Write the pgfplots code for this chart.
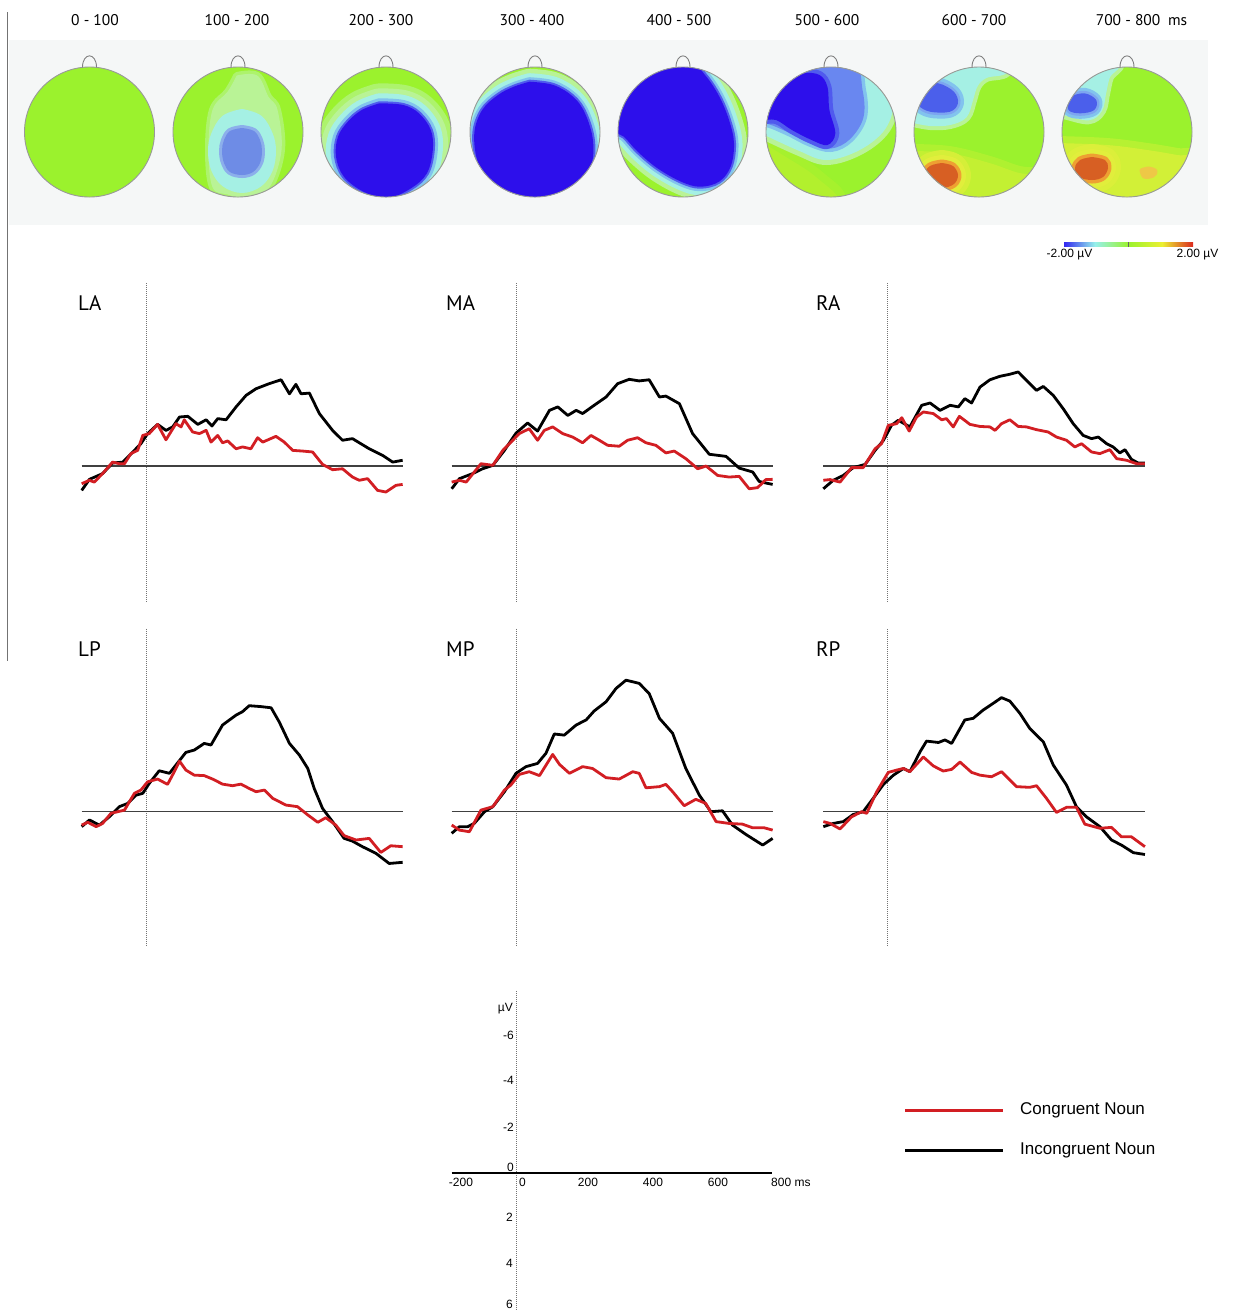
\documentclass[border=0pt]{standalone}
\usepackage{pgfplots}
\pgfplotsset{compat=1.18}
\usepackage{pgfplotstable}
\usepackage{fontspec}
\setmainfont{PT Sans}
\newfontfamily\arial{Liberation Sans}

\definecolor{hgreen}{RGB}{155,242,45}
\definecolor{hblue}{RGB}{45,15,235}
\definecolor{hlblue}{RGB}{80,90,238}
\definecolor{hcblue}{RGB}{130,195,238}
\definecolor{hlblueb}{RGB}{105,135,240}
\definecolor{hmblue}{RGB}{110,140,230}
\definecolor{hmbluer}{RGB}{140,175,235}
\definecolor{hsblue}{RGB}{75,95,235}
\definecolor{hsbluer}{RGB}{125,165,240}
\definecolor{hcyan}{RGB}{165,240,228}
\definecolor{hpale}{RGB}{185,243,150}
\definecolor{hyel}{RGB}{225,238,60}
\definecolor{hygreen}{RGB}{195,240,50}
\definecolor{hygreenb}{RGB}{210,240,55}
\definecolor{hygreenc}{RGB}{178,240,45}
\definecolor{horange}{RGB}{238,160,50}
\definecolor{hred}{RGB}{215,95,35}
\definecolor{hspot}{RGB}{238,200,70}
\definecolor{erpred}{RGB}{210,30,35}
\definecolor{bggray}{RGB}{245,247,247}
\definecolor{cbblue}{RGB}{50,40,240}
\definecolor{cbcyan}{RGB}{150,240,235}
\definecolor{cbyel}{RGB}{235,240,50}
\definecolor{cbred}{RGB}{220,40,30}

\pgfplotsset{
 head/.style={width=130pt,height=130pt,scale only axis,hide axis,xmin=-65,xmax=65,ymin=-65,ymax=65,y dir=reverse,clip=false,anchor=center},
 erp/.style={width=321.6pt,height=322pt,scale only axis,hide axis,xmin=-200,xmax=800,ymin=-8,ymax=6,y dir=reverse,clip=false,anchor=south west},
 blk/.style={black,line width=2.8pt,line join=round},
 rd/.style={erpred,line width=2.8pt,line join=round},
 zl/.style={black!75,line width=1.5pt},
 dl/.style={black!55,line width=0.8pt,dash pattern=on 1pt off 1pt},
}
\newcommand\headbase{\fill[hgreen] (axis cs:0,0) circle[radius=65];}
\newcommand\headoutline{\draw[black!40,line width=0.9pt] (axis cs:0,0) circle[radius=65];
 \draw[black!50,line width=0.9pt] (axis cs:-7,-64.6) .. controls (axis cs:-7,-80) and (axis cs:7,-80) .. (axis cs:7,-64.6);}
\newcommand\lay[3]{\addplot[fill=#2,draw=#2,line width=#3,line join=round,smooth,tension=0.6] table{#1} -- cycle;}
\newcommand\layn[2]{\addplot[fill=#2,draw=none,smooth,tension=0.6] table{#1} -- cycle;}

% ---- topographic map outlines (local coordinates, px from head centre, y down)
\pgfplotstableread{
x y
-1 -56
19 -56
30 -35
39 -22
43 18
31 55
10 66
-10 62
-25 55
-29 18
-25 -22
-10 -40
-1 -56
}\hBhalo
\pgfplotstableread{
x y
4 -19
21 -13
31 3
34 19
31 37
21 51
4 57
-13 51
-23 37
-26 19
-23 3
-13 -13
4 -19
}\hBcyan
\pgfplotstableread{
x y
4 -4
16 -1
22 8
24 19
22 31
15 40
4 43
-8 40
-14 31
-16 19
-14 8
-8 -1
4 -4
}\hBcore
\pgfplotstableread{
x y
-6.6 -28.7
17.2 -27
33 -18.7
44.8 -2
46.8 18
40.9 41.3
25 56.3
1.4 66
-22.4 59.7
-42.1 44.7
-50 24.7
-48 4.7
-38.2 -10.3
-24.3 -22
-6.6 -28.7
}\hCcore
\pgfplotstableread{
x y
-5.4 -50.3
18.4 -47
38.1 -35.3
50 -18.7
57.9 8
55.9 34.7
42 54.7
18.4 66
-13.3 66
-41 54.7
-56.7 31.3
-60.7 1.3
-52.8 -22
-37 -37
-21.2 -45.3
-5.4 -50.3
}\hDcore
\pgfplotstableread{
x y
-35 -72
5 -72
22 -57
36 -36
46 -12
51 11.3
47.6 34.7
36 49.7
17 54.7
-1.8 49.7
-25.5 36.3
-45.3 19.7
-59.1 4.7
-72 -5
-72 -50
-50 -70
-35 -72
}\hEcore
\pgfplotstableread{
x y
-70 10
-45 25
-15 45
5 70
-70 70
-70 10
}\hFyel
\pgfplotstableread{
x y
-70 -2
-31 16
-4 25
28 15
52 -5
60 -32
52 -55
20 -70
-40 -70
-70 -32
-70 -2
}\hFcyan
\pgfplotstableread{
x y
-70 -20
-62 -40
-50 -55
-31 -70
20 -70
30 -42
31 -15
18 6
0 15
-20 10
-40 0
-58 -8
-70 -12
-70 -20
}\hFmid
\pgfplotstableread{
x y
-70 -18.7
-55 -38.7
-43.1 -52
-27.3 -58.7
-11.5 -57
-3.6 -45.3
-1.6 -22
4.3 1.3
-3.6 13
-19.4 8
-39.1 -2
-55 -12
-70 -12
-70 -18.7
}\hFcore
\pgfplotstableread{
x y
-70 -12
-48.8 -8
-29 -9
-14 -16
-8 -32
-3 -47
7 -56
27 -61
27 -80
-70 -80
-70 -12
}\hGcyan
\pgfplotstableread{
x y
-58.7 -47
-40.9 -48.7
-25.1 -40.3
-21.1 -28.7
-29 -20.3
-48.8 -20.3
-60.7 -27
-62.6 -38.7
-58.7 -47
}\hGcore
\pgfplotstableread{
x y
-70 22
-30 24
10 34
40 44
70 48
70 70
-70 70
-70 22
}\hGyel
\pgfplotstableread{
x y
-37 31
-26 34
-21 43
-25 52
-37 56
-49 53
-55 43
-49 34
-37 31
}\hGorange
\pgfplotstableread{
x y
-70 -18.7
-62.4 -18.7
-38.7 -13.7
-26.8 -22
-22.9 -38.7
-19 -55.3
-11 -70
-70 -70
-70 -18.7
}\hHcyan
\pgfplotstableread{
x y
-58.5 -35.3
-42.6 -38.7
-30.8 -32
-32.8 -22
-46.6 -18.7
-58.5 -22
-58.5 -35.3
}\hHcore
\pgfplotstableread{
x y
-70 14
-20 16
20 21
50 26
70 30
70 70
-70 70
-70 14
}\hHyel
\pgfplotstableread{
x y
-35 25
-22 28
-19 36
-24 45
-35 48
-48 45
-52 36
-47 28
-35 25
}\hHorange
\pgfplotstableread{
x y
14 38
22 36
29 39
26 44
17 45
14 38
}\hHspot

\begin{document}
\begin{tikzpicture}
\useasboundingbox (0pt,0pt) rectangle (1234pt,-1310pt);
\pgfdeclarehorizontalshading{cbar}{100bp}{color(0bp)=(cbblue); color(25bp)=(cbblue); color(37bp)=(cbcyan); color(50bp)=(hgreen); color(63bp)=(cbyel); color(75bp)=(cbred); color(100bp)=(cbred)}
\begin{scope}[x=1pt,y=-1pt]
\fill[bggray] (9,39.5) rectangle (1208,225);
\draw[black!55,line width=1.6pt] (7.5,12) -- (7.5,661);
\begin{scope}[font=\fontsize{15.5}{18}\selectfont]
\node at (95,20) {0 - 100};
\node at (237,20) {100 - 200};
\node at (381,20) {200 - 300};
\node at (532,20) {300 - 400};
\node at (679,20) {400 - 500};
\node at (827,20) {500 - 600};
\node at (974,20) {600 - 700};
\node at (1141.5,20) {700 - 800\enspace ms};
\end{scope}
\shade[shading=cbar] (1064,242) rectangle (1193,246.5);
\draw[black!60,line width=0.6pt] (1128.5,242) -- (1128.5,246.5);
\begin{scope}[font=\arial\fontsize{12}{14}\selectfont]
\node at (1069.5,255) {-2.00 µV};
\node at (1197.5,255) {2.00 µV};
\end{scope}
\begin{scope}[font=\fontsize{21}{24}\selectfont]
\node[anchor=west,inner sep=0pt] at (78,303) {LA};
\node[anchor=west,inner sep=0pt] at (446,303) {MA};
\node[anchor=west,inner sep=0pt] at (816,303) {RA};
\node[anchor=west,inner sep=0pt] at (78,649) {LP};
\node[anchor=west,inner sep=0pt] at (446,649) {MP};
\node[anchor=west,inner sep=0pt] at (816,649) {RP};
\end{scope}
\begin{scope}[font=\arial\fontsize{12}{14}\selectfont]
\node[anchor=east,inner sep=1pt] at (514,1009) {µV};
\node[anchor=east,inner sep=1pt] at (515,1035) {-6};
\node[anchor=east,inner sep=1pt] at (515,1080) {-4};
\node[anchor=east,inner sep=1pt] at (515,1127) {-2};
\node[anchor=east,inner sep=1pt] at (515,1167) {0};
\node[anchor=east,inner sep=1pt] at (514,1217) {2};
\node[anchor=east,inner sep=1pt] at (514,1263) {4};
\node[anchor=east,inner sep=1pt] at (514,1304) {6};
\node at (461,1182) {-200};
\node at (522.5,1182) {0};
\node at (588,1182) {200};
\node at (653,1182) {400};
\node at (718,1182) {600};
\node[anchor=west,inner sep=0pt] at (771,1182) {800 ms};
\end{scope}
\draw[erpred,line width=3pt] (905,1110) -- (1003,1110);
\draw[black,line width=3pt] (905,1150) -- (1003,1150);
\begin{scope}[font=\arial\fontsize{17}{20}\selectfont]
\node[anchor=west,inner sep=0pt] at (1020,1110) {Congruent Noun};
\node[anchor=west,inner sep=0pt] at (1020,1150) {Incongruent Noun};
\end{scope}
\end{scope}

% ---------------- heads
\begin{axis}[head,at={(89.5pt,-132pt)}]
\headbase
\headoutline
\end{axis}
\begin{axis}[head,at={(238pt,-132pt)}]
\headbase
\begin{scope}
\clip (axis cs:0,0) circle[radius=65];
\lay{\hBhalo}{hpale!60!hgreen}{8pt}
\lay{\hBhalo}{hpale}{1pt}
\lay{\hBcyan}{hcyan}{8pt}
\lay{\hBcore}{hmbluer}{6pt}
\layn{\hBcore}{hmblue}
\end{scope}
\headoutline
\end{axis}
\begin{axis}[head,at={(386pt,-132pt)}]
\headbase
\begin{scope}
\clip (axis cs:0,0) circle[radius=65];
\lay{\hCcore}{hpale!60!hgreen}{40pt}
\lay{\hCcore}{hpale}{30pt}
\lay{\hCcore}{hcyan}{20pt}
\lay{\hCcore}{hcblue}{10pt}
\lay{\hCcore}{hlblue}{4pt}
\layn{\hCcore}{hblue}
\end{scope}
\headoutline
\end{axis}
\begin{axis}[head,at={(535pt,-132pt)}]
\headbase
\begin{scope}
\clip (axis cs:0,0) circle[radius=65];
\lay{\hDcore}{hpale}{26pt}
\lay{\hDcore}{hcyan}{17pt}
\lay{\hDcore}{hcblue}{9pt}
\lay{\hDcore}{hlblue}{4pt}
\layn{\hDcore}{hblue}
\end{scope}
\headoutline
\end{axis}
\begin{axis}[head,at={(683pt,-132pt)}]
\headbase
\begin{scope}
\clip (axis cs:0,0) circle[radius=65];
\lay{\hEcore}{hpale}{26pt}
\lay{\hEcore}{hcyan}{17pt}
\lay{\hEcore}{hcblue}{9pt}
\lay{\hEcore}{hlblue}{4pt}
\layn{\hEcore}{hblue}
\end{scope}
\headoutline
\end{axis}
\begin{axis}[head,at={(831pt,-132pt)}]
\headbase
\begin{scope}
\clip (axis cs:0,0) circle[radius=65];
\lay{\hFyel}{hygreenc!50!hgreen}{16pt}
\layn{\hFyel}{hygreenc}
\lay{\hFcyan}{hpale}{16pt}
\lay{\hFcyan}{hcyan}{6pt}
\lay{\hFmid}{hcblue}{10pt}
\lay{\hFmid}{hlblueb}{3pt}
\lay{\hFcore}{hlblue}{8pt}
\layn{\hFcore}{hblue}
\end{scope}
\headoutline
\end{axis}
\begin{axis}[head,at={(979pt,-132pt)}]
\headbase
\begin{scope}
\clip (axis cs:0,0) circle[radius=65];
\lay{\hGyel}{hygreen!50!hgreen}{20pt}
\lay{\hGyel}{hygreen}{6pt}
\lay{\hGcyan}{hpale}{12pt}
\lay{\hGcyan}{hcyan}{4pt}
\lay{\hGcore}{hcblue}{12pt}
\lay{\hGcore}{hsbluer}{5pt}
\layn{\hGcore}{hsblue}
\lay{\hGorange}{hygreen!40!hyel}{26pt}
\lay{\hGorange}{hyel}{16pt}
\lay{\hGorange}{horange}{7pt}
\layn{\hGorange}{hred}
\end{scope}
\headoutline
\end{axis}
\begin{axis}[head,at={(1127pt,-132pt)}]
\headbase
\begin{scope}
\clip (axis cs:0,0) circle[radius=65];
\lay{\hHyel}{hygreenb!50!hgreen}{20pt}
\lay{\hHyel}{hygreenb}{6pt}
\lay{\hHcyan}{hpale}{12pt}
\lay{\hHcyan}{hcyan}{4pt}
\lay{\hHcore}{hcblue}{11pt}
\lay{\hHcore}{hsbluer}{5pt}
\layn{\hHcore}{hsblue}
\lay{\hHorange}{hygreenb!40!hyel}{26pt}
\lay{\hHorange}{hyel}{16pt}
\lay{\hHorange}{horange}{7pt}
\layn{\hHorange}{hred}
\lay{\hHspot}{hspot}{3pt}
\end{scope}
\headoutline
\end{axis}

% ---------------- ERP panels
% LA
\begin{axis}[erp,at={(81.7pt,-604pt)}]
\addplot[dl] coordinates {(0,-7.95)(0,5.95)};
\addplot[zl] coordinates {(-200,0)(800,0)};
\addplot[blk] coordinates {(-200,1.06)(-176,0.58)(-135,0.33)(-104,-0.13)(-72,-0.17)(-41,-0.61)(-16,-0.97)(5,-1.41)(36,-1.81)(62,-1.55)(83,-1.70)(104,-2.13)(130,-2.16)(161,-1.81)(187,-2.01)(205,-1.74)(223,-2.06)(249,-2.01)(280,-2.57)(311,-3.07)(342,-3.36)(383,-3.58)(420,-3.75)(446,-3.14)(466,-3.55)(482,-3.14)(508,-3.17)(539,-2.28)(580,-1.55)(611,-1.12)(642,-1.19)(694,-0.75)(736,-0.46)(767,-0.17)(798,-0.25)};
\addplot[rd] coordinates {(-200,0.77)(-176,0.62)(-161,0.70)(-135,0.33)(-104,-0.17)(-83,-0.10)(-67,-0.10)(-47,-0.54)(-26,-0.68)(-10,-1.33)(10,-1.41)(36,-1.81)(62,-1.14)(93,-1.84)(109,-1.70)(119,-2.01)(145,-1.48)(166,-1.41)(187,-1.55)(202,-1.04)(223,-1.33)(238,-1.01)(254,-1.09)(280,-0.75)(300,-0.83)(326,-0.75)(347,-1.23)(363,-1.04)(404,-1.29)(430,-1.04)(456,-0.68)(487,-0.65)(518,-0.61)(549,-0.07)(580,0.16)(611,0.12)(642,0.48)(663,0.62)(689,0.55)(720,1.06)(746,1.13)(777,0.84)(798,0.80)};
\end{axis}
% MA
\begin{axis}[erp,at={(451.7pt,-604pt)}]
\addplot[dl] coordinates {(0,-7.95)(0,5.95)};
\addplot[zl] coordinates {(-200,0)(800,0)};
\addplot[blk] coordinates {(-200,0.99)(-176,0.55)(-135,0.33)(-104,0.12)(-72,-0.03)(-36,-0.68)(0,-1.43)(36,-1.87)(67,-1.52)(104,-2.42)(130,-2.57)(161,-2.20)(187,-2.42)(207,-2.28)(243,-2.64)(280,-3.00)(316,-3.58)(352,-3.77)(383,-3.70)(414,-3.75)(446,-3.00)(466,-3.04)(508,-2.71)(549,-1.41)(601,-0.51)(653,-0.42)(694,0.09)(736,0.26)(756,0.67)(777,0.74)(798,0.80)};
\addplot[rd] coordinates {(-200,0.70)(-176,0.62)(-155,0.70)(-109,-0.10)(-72,-0.03)(-41,-0.68)(-10,-1.12)(10,-1.41)(41,-1.62)(67,-1.12)(88,-1.55)(114,-1.70)(145,-1.41)(176,-1.26)(207,-1.01)(233,-1.33)(259,-1.12)(285,-0.90)(321,-0.86)(347,-1.12)(378,-1.23)(404,-1.01)(435,-0.90)(466,-0.57)(492,-0.65)(528,-0.32)(565,0.12)(591,0.00)(627,0.41)(663,0.48)(694,0.45)(725,0.99)(751,0.94)(777,0.59)(798,0.58)};
\end{axis}
% RA
\begin{axis}[erp,at={(823pt,-604pt)}]
\addplot[dl] coordinates {(0,-7.95)(0,5.95)};
\addplot[zl] coordinates {(-200,0)(800,0)};
\addplot[blk] coordinates {(-199,0.99)(-168,0.62)(-137,0.41)(-106,0.07)(-69,-0.07)(-38,-0.68)(-12,-1.12)(13,-1.77)(34,-1.99)(70,-1.70)(107,-2.64)(133,-2.74)(164,-2.42)(195,-2.64)(221,-2.57)(241,-2.93)(262,-2.74)(288,-3.43)(319,-3.75)(350,-3.90)(381,-3.99)(407,-4.09)(433,-3.72)(464,-3.29)(485,-3.46)(516,-3.07)(547,-2.49)(578,-1.84)(609,-1.33)(635,-1.19)(656,-1.26)(682,-0.97)(702,-0.83)(723,-0.57)(739,-0.71)(759,-0.29)(780,-0.13)(801,-0.13)};
\addplot[rd] coordinates {(-199,0.62)(-178,0.59)(-147,0.70)(-111,0.07)(-75,0.07)(-38,-0.75)(-18,-0.97)(3,-1.77)(29,-1.84)(45,-2.10)(68,-1.52)(91,-2.13)(112,-2.35)(143,-2.28)(169,-2.01)(184,-2.06)(205,-1.70)(224,-2.16)(257,-1.81)(288,-1.72)(319,-1.70)(335,-1.55)(355,-1.84)(381,-2.01)(407,-1.72)(433,-1.70)(464,-1.58)(500,-1.48)(526,-1.26)(557,-1.12)(583,-0.83)(604,-0.97)(635,-0.61)(661,-0.54)(692,-0.71)(713,-0.32)(744,-0.25)(775,-0.10)(801,-0.10)};
\end{axis}
% LP
\begin{axis}[erp,at={(81.7pt,-949.7pt)}]
\addplot[dl] coordinates {(0,-7.95)(0,5.85)};
\addplot[zl] coordinates {(-200,0)(800,0)};
\addplot[blk] coordinates {(-200,0.65)(-176,0.36)(-145,0.58)(-114,0.22)(-83,-0.22)(-57,-0.36)(-31,-0.72)(-10,-0.80)(10,-1.23)(41,-1.78)(73,-1.67)(93,-2.03)(124,-2.58)(150,-2.68)(181,-2.97)(202,-2.90)(238,-3.77)(280,-4.20)(300,-4.35)(321,-4.61)(357,-4.57)(389,-4.52)(414,-3.91)(446,-2.97)(477,-2.46)(503,-1.88)(523,-1.01)(549,-0.14)(580,0.43)(616,1.16)(642,1.28)(673,1.52)(715,1.81)(756,2.25)(798,2.20)};
\addplot[rd] coordinates {(-200,0.58)(-181,0.46)(-155,0.65)(-135,0.51)(-109,0.07)(-67,-0.07)(-36,-0.80)(-16,-0.94)(5,-1.30)(36,-1.42)(67,-1.19)(88,-1.74)(104,-2.20)(124,-1.81)(150,-1.59)(181,-1.57)(207,-1.42)(238,-1.20)(269,-1.13)(295,-1.20)(321,-1.01)(342,-0.87)(368,-0.94)(394,-0.58)(435,-0.29)(471,-0.22)(503,0.14)(534,0.46)(559,0.26)(590,0.58)(616,1.04)(653,1.23)(694,1.16)(730,1.77)(761,1.48)(798,1.52)};
\end{axis}
% MP
\begin{axis}[erp,at={(451.7pt,-949.7pt)}]
\addplot[dl] coordinates {(0,-7.95)(0,5.85)};
\addplot[zl] coordinates {(-200,0)(800,0)};
\addplot[blk] coordinates {(-200,0.94)(-176,0.65)(-150,0.65)(-130,0.51)(-98,0.00)(-72,-0.22)(-36,-0.87)(0,-1.67)(31,-1.96)(67,-2.10)(93,-2.54)(119,-3.38)(150,-3.33)(187,-3.77)(218,-3.99)(243,-4.38)(280,-4.78)(311,-5.36)(342,-5.72)(383,-5.58)(414,-5.14)(446,-4.06)(487,-3.41)(528,-1.88)(570,-0.72)(606,0.00)(642,-0.04)(673,0.58)(715,0.99)(767,1.45)(798,1.16)};
\addplot[rd] coordinates {(-200,0.58)(-176,0.80)(-145,0.87)(-109,-0.07)(-72,-0.22)(-36,-0.94)(-16,-1.16)(10,-1.62)(41,-1.74)(73,-1.57)(114,-2.49)(135,-2.06)(166,-1.67)(207,-1.96)(238,-1.88)(280,-1.48)(321,-1.42)(363,-1.74)(383,-1.67)(404,-1.04)(446,-1.09)(466,-1.19)(487,-0.87)(523,-0.26)(559,-0.54)(590,-0.36)(622,0.43)(663,0.51)(704,0.54)(736,0.70)(772,0.70)(798,0.80)};
\end{axis}
% RP
\begin{axis}[erp,at={(823pt,-949.7pt)}]
\addplot[dl] coordinates {(0,-7.95)(0,5.85)};
\addplot[zl] coordinates {(-200,0)(800,0)};
\addplot[blk] coordinates {(-199,0.65)(-168,0.51)(-137,0.43)(-106,0.12)(-75,0.00)(-44,-0.58)(-12,-1.19)(19,-1.59)(50,-1.88)(70,-1.74)(102,-2.61)(122,-3.07)(159,-3.01)(179,-3.12)(200,-2.97)(241,-3.99)(267,-4.06)(298,-4.42)(329,-4.71)(355,-4.96)(381,-4.81)(412,-4.28)(443,-3.62)(485,-3.04)(516,-2.03)(557,-1.16)(588,-0.22)(619,0.22)(661,0.65)(697,1.23)(728,1.45)(765,1.78)(801,1.86)};
\addplot[rd] coordinates {(-199,0.43)(-178,0.51)(-147,0.75)(-111,0.22)(-80,0.00)(-64,0.07)(-33,-0.87)(3,-1.71)(29,-1.81)(50,-1.88)(70,-1.74)(112,-2.38)(143,-1.99)(174,-1.77)(200,-1.84)(226,-2.16)(262,-1.71)(288,-1.59)(324,-1.52)(355,-1.74)(402,-1.09)(443,-1.06)(464,-1.13)(495,-0.58)(526,0.03)(557,-0.19)(588,-0.19)(614,0.54)(661,0.72)(697,0.68)(728,1.09)(759,1.09)(801,1.52)};
\end{axis}
% scale axis
\begin{axis}[erp,at={(451.7pt,-1311pt)}]
\addplot[black!55,line width=0.8pt,dash pattern=on 1pt off 1pt] coordinates {(0,-7.9)(0,6)};
\addplot[black,line width=1.6pt] coordinates {(-200,0)(795,0)};
\end{axis}
\end{tikzpicture}
\end{document}
